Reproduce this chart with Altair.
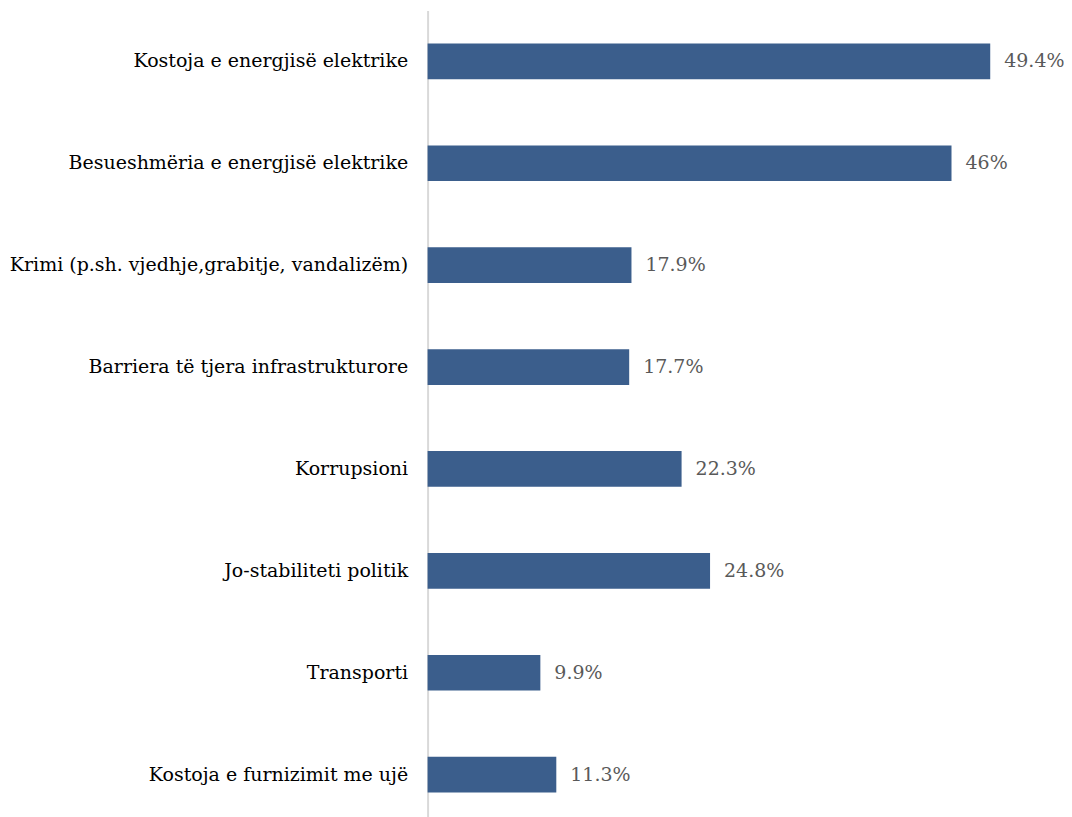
import altair as alt
import pandas as pd

categories = [
    "Kostoja e energjisë elektrike",
    "Besueshmëria e energjisë elektrike",
    "Krimi (p.sh. vjedhje,grabitje, vandalizëm)",
    "Barriera të tjera infrastrukturore",
    "Korrupsioni",
    "Jo-stabiliteti politik",
    "Transporti",
    "Kostoja e furnizimit me ujë",
]
values = [49.4, 46.0, 17.9, 17.7, 22.3, 24.8, 9.9, 11.3]
labels = ["49.4%", "46%", "17.9%", "17.7%", "22.3%", "24.8%", "9.9%", "11.3%"]

df = pd.DataFrame({"cat": categories, "val": values, "lab": labels})

FONT = "DejaVu Serif"

y = alt.Y("cat:N", sort=categories, title=None,
          scale=alt.Scale(paddingInner=0.65, paddingOuter=0.325),
          axis=alt.Axis(domainColor="#d9d9d9", domainWidth=2, ticks=False,
                        labelFont=FONT, labelFontSize=19, labelColor="#000000",
                        labelPadding=20, labelLimit=500))
x = alt.X("val:Q", scale=alt.Scale(domain=[0, 55]), axis=None)

bars = alt.Chart(df).mark_bar(color="#3b5e8c").encode(x=x, y=y)
text = alt.Chart(df).mark_text(align="left", dx=14, font=FONT, fontSize=19,
                               color="#595959").encode(x=x, y=y, text="lab:N")

chart = (bars + text).properties(
    width=627, height=816,
    autosize=alt.AutoSizeParams(type="none"),
    padding={"left": 420, "top": 2, "right": 10, "bottom": 0},
).configure_view(stroke=None)

chart.save("out.html", embed_options={"renderer": "svg", "actions": False})
